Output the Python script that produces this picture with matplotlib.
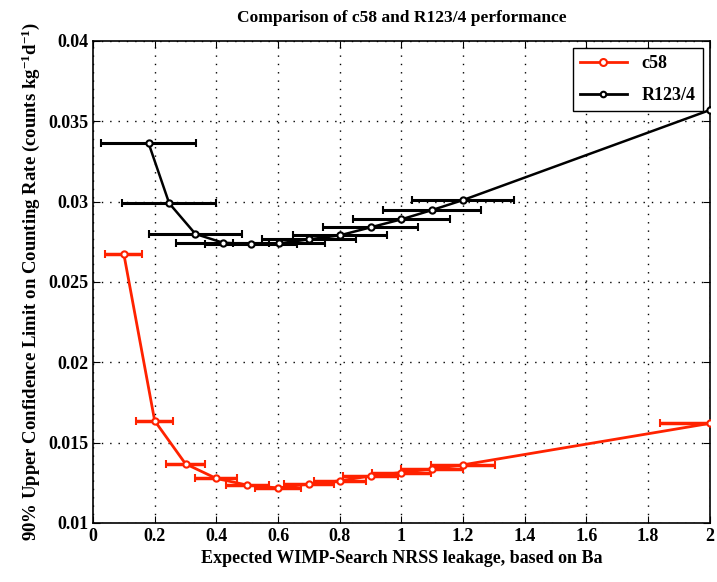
import matplotlib
matplotlib.use("Agg")
import matplotlib.pyplot as plt
import matplotlib.ticker as ticker
from matplotlib.lines import Line2D

plt.rcParams['font.family'] = ['Liberation Serif', 'DejaVu Serif']
plt.rcParams['font.weight'] = 'bold'
plt.rcParams['mathtext.default'] = 'regular'

# c58 (red)
c58_x = [0.10, 0.20, 0.30, 0.40, 0.50, 0.60, 0.70, 0.80, 0.90, 1.00, 1.10, 1.20, 2.00]
c58_y = [0.02674, 0.01636, 0.01368, 0.01277, 0.01236, 0.01218, 0.01243, 0.01262,
         0.01293, 0.01314, 0.01337, 0.01362, 0.01620]
c58_xerr = [0.06, 0.06, 0.062, 0.068, 0.07, 0.075, 0.08, 0.085, 0.09, 0.095, 0.10, 0.105, 0.16]

# R123/4 (black)
r123_x = [0.18, 0.247, 0.332, 0.42, 0.512, 0.603, 0.70, 0.80, 0.90, 1.00, 1.10, 1.20, 2.00]
r123_y = [0.03365, 0.0299, 0.02799, 0.02745, 0.02735, 0.0274, 0.02765, 0.0279,
          0.0284, 0.0289, 0.02948, 0.0301, 0.0357]
r123_xerr = [0.153, 0.152, 0.15, 0.15, 0.15, 0.15, 0.152, 0.153, 0.155, 0.157, 0.159, 0.165, 0.0]

red = '#ff2200'

fig = plt.figure(figsize=(7.17, 5.82), dpi=100)
ax = fig.add_axes([0.1297, 0.1014, 0.8603, 0.8282])

ax.errorbar(c58_x, c58_y, xerr=c58_xerr, color=red, lw=2, elinewidth=2.5,
            capsize=3, capthick=2, marker='o', ms=4.5, mfc='white', mew=1.5,
            zorder=3)
ax.errorbar(r123_x, r123_y, xerr=r123_xerr, color='black', lw=1.8, elinewidth=2.2,
            capsize=3, capthick=2, marker='o', ms=4.5, mfc='white', mew=1.5,
            zorder=4)

ax.set_xlim(0, 2)
ax.set_ylim(0.01, 0.04)
ax.xaxis.set_major_locator(ticker.MultipleLocator(0.2))
ax.yaxis.set_major_locator(ticker.MultipleLocator(0.005))
ax.xaxis.set_major_formatter(ticker.FuncFormatter(lambda v, p: ('%g' % round(v, 3))))
ax.yaxis.set_major_formatter(ticker.FuncFormatter(lambda v, p: ('%g' % round(v, 4))))
ax.tick_params(direction='in', top=True, right=True, labelsize=13, length=5)
ax.grid(True, linestyle=(0, (1, 5)), color='black', lw=1.0)
for s in ax.spines.values():
    s.set_linewidth(1.2)

ax.set_title('Comparison of c58 and R123/4 performance', fontsize=12.5,
             fontweight='bold', pad=14)
ax.set_xlabel('Expected WIMP-Search NRSS leakage, based on Ba', fontsize=13, fontweight='bold')
ax.set_ylabel('90% Upper Confidence Limit on Counting Rate (counts kg$^{-1}$d$^{-1}$)',
              fontsize=13.5, fontweight='bold')

handles = [Line2D([], [], color=red, lw=2, marker='o', ms=5, mfc='white', mew=1.5),
           Line2D([], [], color='black', lw=2, marker='o', ms=4, mfc='white', mew=1.5)]
leg = ax.legend(handles, ['c58', 'R123/4'], loc='upper right', fontsize=13,
                fancybox=False, edgecolor='black', framealpha=1,
                borderaxespad=0.4, labelspacing=0.8, handlelength=2.6)
leg.get_frame().set_linewidth(1.0)

fig.savefig('out.png', dpi=100)
